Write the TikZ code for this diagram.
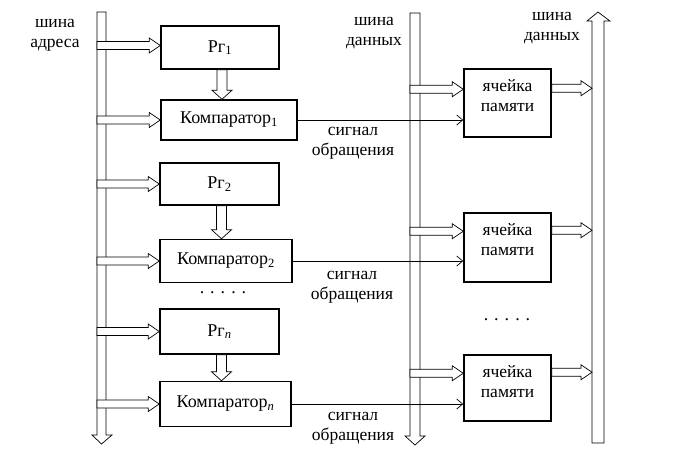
\documentclass[tikz,border=0pt]{standalone}
\usepackage{fontspec}
\setmainfont{Liberation Serif}
\usetikzlibrary{calc,arrows.meta}
\tikzset{
  box/.style={draw, line width=1.5pt, inner sep=0pt, font=\fontsize{18}{21}\selectfont},
  cell/.style={box, minimum width=87pt},
  hollow/.style={draw, line width=0.7pt, fill=white, line join=miter},
  sig/.style={draw, line width=0.7pt, -{Straight Barb[length=6pt,width=10pt]}},
  lbl/.style={align=center, font=\fontsize{17.5}{20}\selectfont, inner sep=0pt},
  dots/.style={font=\fontsize{18}{20}\selectfont, inner sep=0pt},
}
% horizontal hollow arrow: starts at x of #1, ends (tip) at #2
\newcommand{\harrow}[2]{\path[hollow] let \p1=(#1), \p2=(#2) in
  (\x1,\y2+4pt) -- (\x2-11pt,\y2+4pt) -- (\x2-11pt,\y2+7.5pt) -- (\x2,\y2)
  -- (\x2-11pt,\y2-7.5pt) -- (\x2-11pt,\y2-4pt) -- (\x1,\y2-4pt) -- cycle;}
% vertical hollow arrow downward: from #1 to y of #2, at x of #1
\newcommand{\varrow}[2]{\path[hollow] let \p1=(#1), \p2=(#2) in
  (\x1-5pt,\y1) -- (\x1-5pt,\y2+9pt) -- (\x1-10pt,\y2+9pt) -- (\x1,\y2)
  -- (\x1+10pt,\y2+9pt) -- (\x1+5pt,\y2+9pt) -- (\x1+5pt,\y1) -- cycle;}
\begin{document}
\begin{tikzpicture}[x=1pt,y=-1pt]
\useasboundingbox (0,0) rectangle (681,472);

% buses
\path[hollow] (97,12) -- (106,12) -- (106,435) -- (112,435) -- (101.5,444) -- (92,435) -- (97,435) -- cycle;
\path[hollow] (410,13) -- (420,13) -- (420,436) -- (425,436) -- (415,445) -- (405,436) -- (410,436) -- cycle;
\path[hollow] (592,443) -- (592,21) -- (587,21) -- (598,12) -- (610,21) -- (604,21) -- (604,443) -- cycle;
\coordinate (lb) at (97,0);
\coordinate (mb) at (410,0);
\coordinate (rb) at (592,0);

% labels of buses
\node[lbl] (la) at (55,35) {шина\\адреса};
\node[lbl] (lm) at (374,33) {шина\\данных};
\node[lbl] (lr) at (552,28) {шина\\данных};

% registers and comparators
\node[box, minimum width=118pt, minimum height=43pt] (r1) at (220,47.5) {Рг\textsubscript{1}};
\node[box, minimum width=136pt, minimum height=40pt] (k1) at (229,120) {Компаратор\textsubscript{1}};
\node[box, minimum width=119pt, minimum height=42pt] (r2) at (219.5,184) {Рг\textsubscript{2}};
\node[box, minimum width=132pt, minimum height=43pt] (k2) at (226,261) {Компаратор\textsubscript{2}};
\node[box, minimum width=119pt, minimum height=45pt] (rn) at (219.5,331.5) {Рг\textsubscript{\itshape n}};
\node[box, minimum width=131pt, minimum height=45pt] (kn) at (225.5,404) {Компаратор\textsubscript{\itshape n}};
\node[dots] (d1) at (223,293) {.\,\,.\,\,.\,\,.\,\,.};

% memory cells
\node[cell, minimum height=68pt, label={[lbl, anchor=north, yshift=-11pt]north:ячейка\\памяти}] (m1) at (507.5,103) {};
\node[cell, minimum height=69pt, label={[lbl, anchor=north, yshift=-11pt]north:ячейка\\памяти}] (m2) at (507.5,247.5) {};
\node[cell, minimum height=66pt, label={[lbl, anchor=north, yshift=-11pt]north:ячейка\\памяти}] (m3) at (507.5,388) {};
\node[dots] (d2) at (507,320) {.\,\,.\,\,.\,\,.\,\,.};

% address bus -> registers / comparators
\harrow{lb}{$(r1.west)+(0,-2)$}
\harrow{lb}{k1.west}
\harrow{lb}{r2.west}
\harrow{lb}{k2.west}
\harrow{lb}{rn.west}
\harrow{lb}{kn.west}

% register -> comparator
\varrow{$(r1.south)+(2,0)$}{k1.north}
\varrow{$(r2.south)+(2,0)$}{k2.north}
\varrow{$(rn.south)+(2,0)$}{kn.north}

% data bus -> cells, cells -> data bus
\harrow{mb}{$(m1.north west)+(0,21)$}
\harrow{mb}{$(m2.north west)+(0,19)$}
\harrow{mb}{$(m3.north west)+(0,19)$}
\harrow{m1.east}{$(rb |- m1.north)+(0,20)$}
\harrow{m2.east}{$(rb |- m2.north)+(0,18)$}
\harrow{m3.east}{$(rb |- m3.north)+(0,18)$}

% access signals
\draw[sig] (k1.east) -- (k1.east -| m1.west);
\draw[sig] (k2.east) -- (k2.east -| m2.west);
\draw[sig] (kn.east) -- (kn.east -| m3.west);
\node[lbl] (s1) at (353,143) {сигнал\\обращения};
\node[lbl] (s2) at (352,287) {сигнал\\обращения};
\node[lbl] (s3) at (353,428) {сигнал\\обращения};
\end{tikzpicture}
\end{document}
